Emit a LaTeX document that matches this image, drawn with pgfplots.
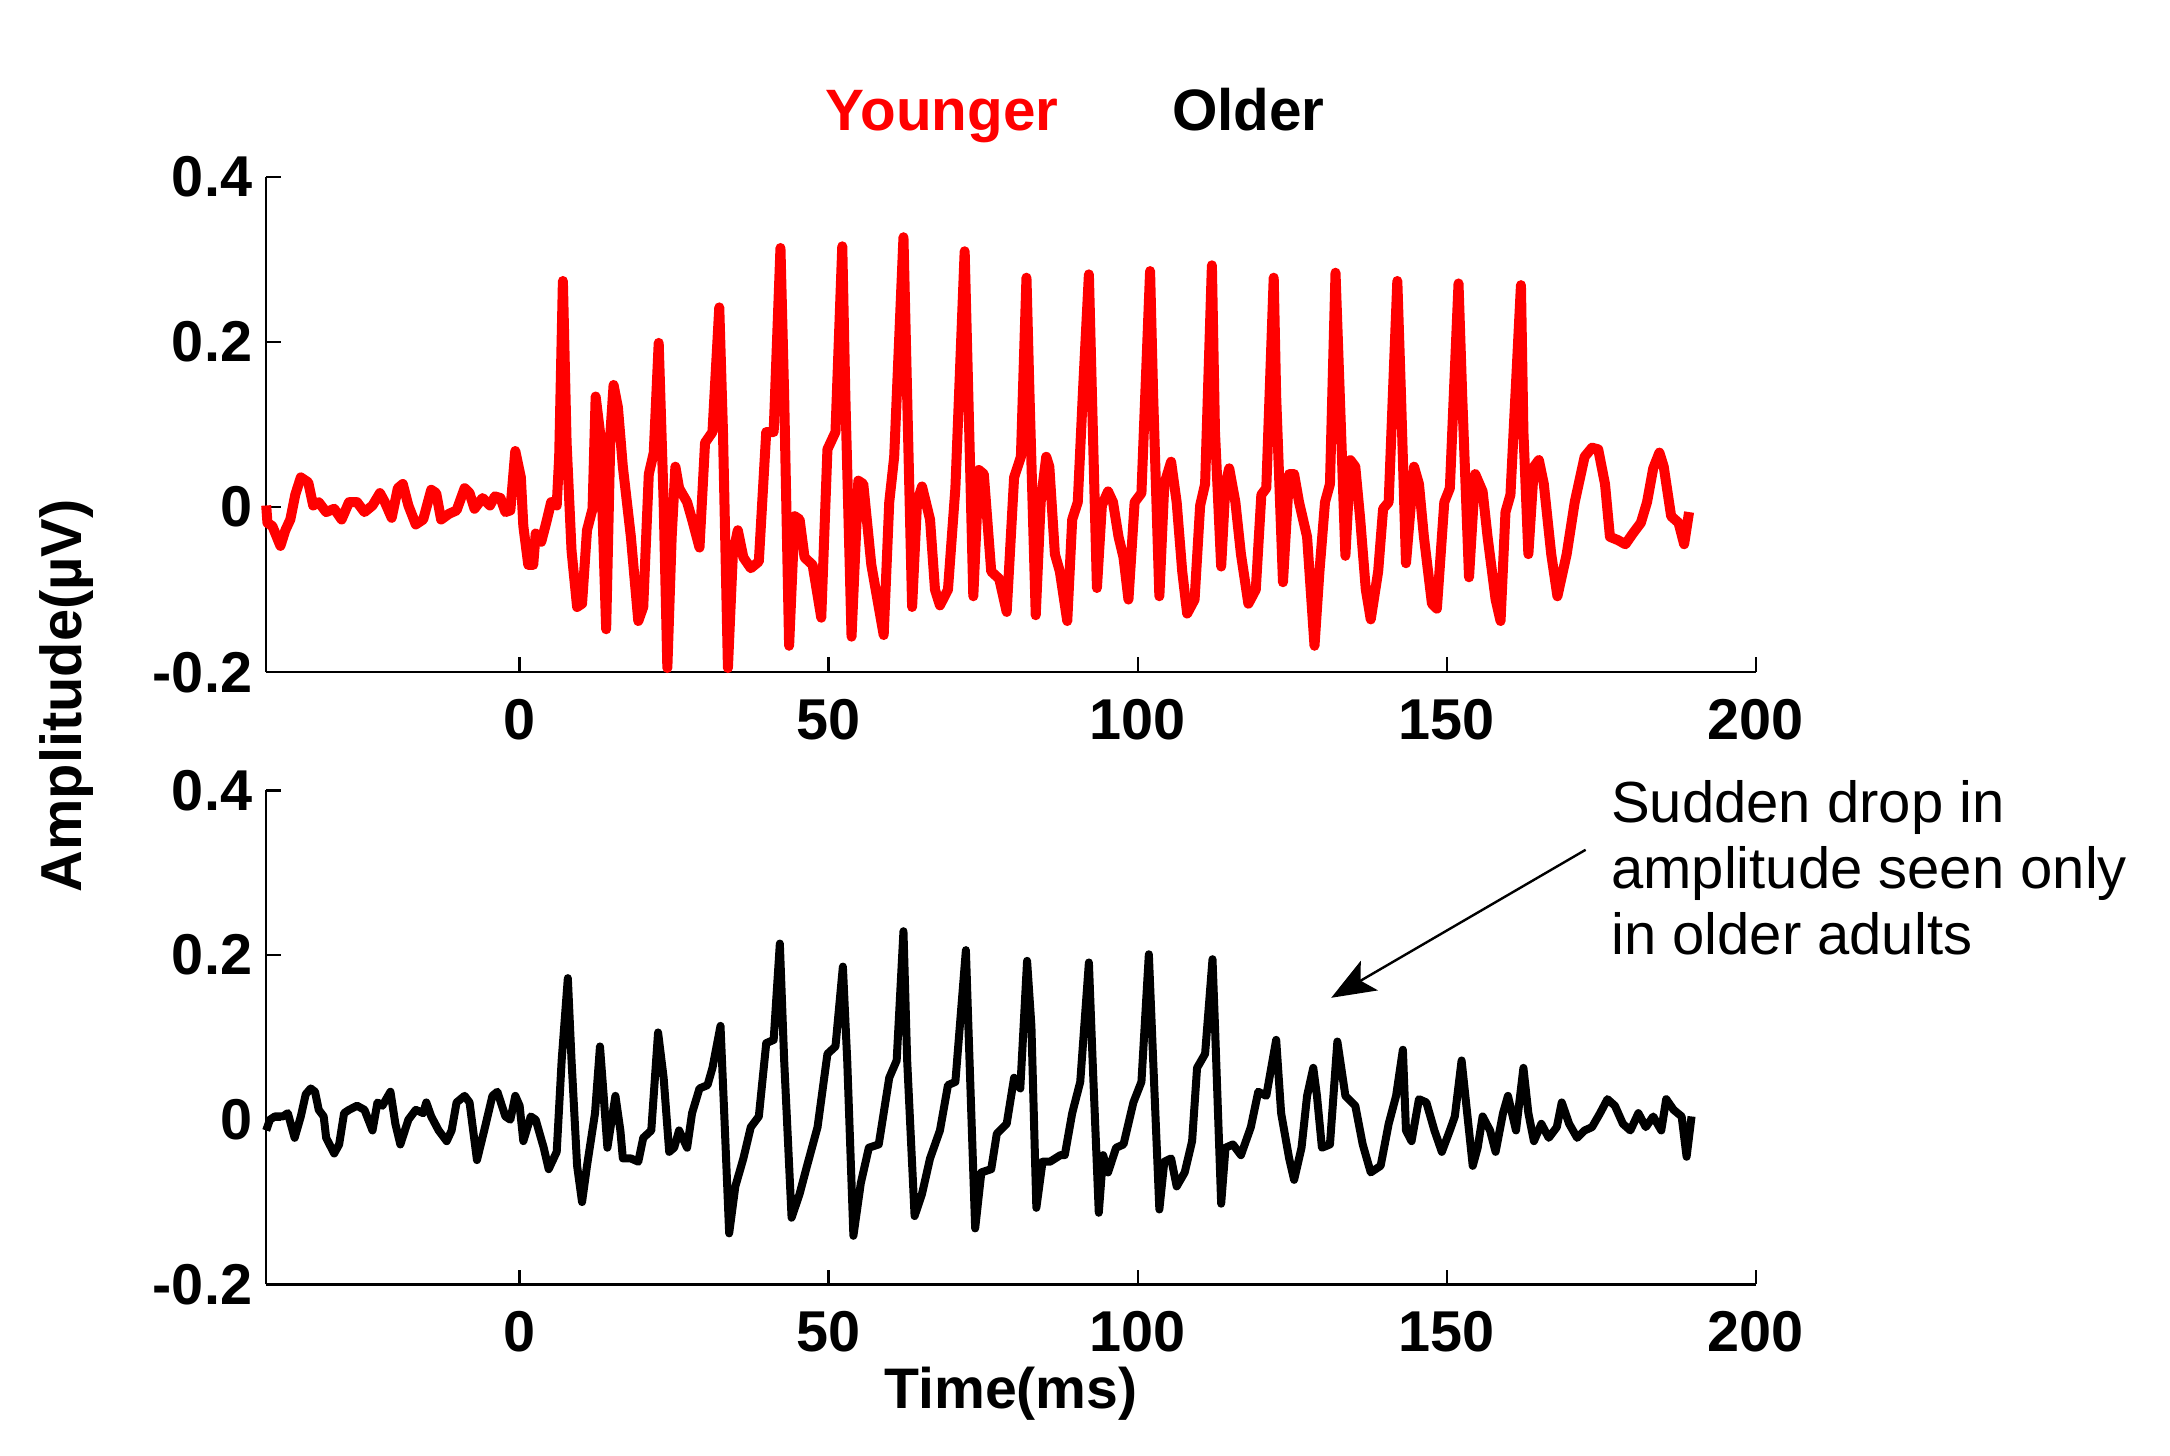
\documentclass[border=0pt]{standalone}
\usepackage{pgfplots}
\pgfplotsset{compat=1.18}
\usepackage{fontspec}
\setmainfont{Liberation Sans}
\usetikzlibrary{arrows.meta}
\definecolor{ured}{RGB}{255,0,0}
\begin{document}
\begin{tikzpicture}
\useasboundingbox (0,0) rectangle (542.5pt,363.75pt);
\pgfplotsset{eeg/.style={
  scale only axis, width=372.4pt,
  xmin=-41, xmax=200, ymin=-0.2, ymax=0.4,
  axis x line=bottom, axis y line=left,
  axis line style={-, line width=0.6pt, black},
  tick style={line width=0.6pt, black},
  major tick length=3.7pt, tick align=inside,
  xtick={0,50,100,150,200}, xticklabels={0,50,100,150,200},
  ytick={-0.2,0,0.2,0.4}, yticklabels={-0.2,0,0.2,0.4},
  tick label style={font=\fontsize{14.4}{16}\selectfont\bfseries},
  xticklabel style={yshift=-3.2pt},
  /pgf/number format/assume math mode=true,
  clip=false,
}}
\begin{axis}[eeg, at={(66.55pt,195.7pt)}, anchor=south west, height=123.8pt]
\addplot[ured, line width=2.5pt, line join=round] coordinates {
(-41,0.002)(-40.8,-0.019)(-40.0,-0.023)(-38.7,-0.047)(-37.9,-0.028)(-37.1,-0.015)(-36.3,0.015)(-35.4,0.036)(-34.2,0.030)(-33.4,0.002)
(-32.5,0.006)(-31.3,-0.006)(-30.0,-0.002)(-28.8,-0.015)(-27.6,0.006)(-26.3,0.006)(-25.1,-0.006)(-23.8,0.002)(-22.6,0.017)(-21.8,0.006)
(-20.7,-0.013)(-19.7,0.023)(-18.9,0.028)(-18.0,0.002)(-16.8,-0.021)(-15.6,-0.015)(-14.3,0.021)(-13.5,0.017)(-12.7,-0.015)(-11.4,-0.008)
(-10.2,-0.004)(-8.9,0.023)(-8.1,0.017)(-7.3,-0.002)(-6.0,0.011)(-4.8,0.002)(-4.0,0.013)(-3.1,0.011)(-2.3,-0.006)(-1.5,-0.004)
(-0.7,0.068)(0.2,0.036)(0.6,-0.023)(1.4,-0.070)(2.2,-0.070)(2.6,-0.032)(3.5,-0.042)(4.3,-0.019)(5.1,0.006)(6.0,0.002)
(6.4,0.061)(7.0,0.274)(7.6,0.078)(8.4,-0.053)(9.3,-0.121)(10.1,-0.117)(10.9,-0.028)(11.8,-0.002)(12.3,0.134)(13.0,0.091)
(14.0,-0.148)(14.7,0.091)(15.2,0.148)(15.9,0.121)(16.7,0.049)(18.0,-0.036)(19.2,-0.138)(20.0,-0.121)(20.9,0.040)(21.7,0.066)
(22.5,0.199)(23.3,0.006)(23.9,-0.195)(24.6,-0.036)(25.2,0.049)(25.8,0.023)(27.1,0.006)(27.9,-0.015)(29.1,-0.049)(30.0,0.078)
(31.2,0.091)(32.3,0.242)(32.9,0.091)(33.7,-0.195)(34.5,-0.057)(35.3,-0.028)(36.2,-0.061)(37.4,-0.074)(38.7,-0.066)(39.9,0.091)
(41.1,0.091)(42.2,0.314)(42.8,0.134)(43.6,-0.168)(44.5,-0.011)(45.3,-0.015)(46.1,-0.061)(47.4,-0.070)(48.8,-0.134)(49.8,0.070)
(51.1,0.091)(52.2,0.316)(52.7,0.134)(53.7,-0.157)(54.8,0.032)(55.6,0.028)(56.9,-0.070)(58.1,-0.121)(58.9,-0.155)(59.8,0.006)
(60.6,0.061)(62.1,0.327)(62.7,0.134)(63.5,-0.121)(64.3,0.006)(65.1,0.025)(66.4,-0.015)(67.2,-0.100)(68.0,-0.119)(69.3,-0.100)
(70.5,0.023)(72.0,0.310)(72.6,0.134)(73.4,-0.108)(74.3,0.045)(75.1,0.040)(76.3,-0.078)(77.6,-0.087)(78.8,-0.127)(80.0,0.036)
(81.1,0.061)(82.0,0.278)(82.5,0.134)(83.5,-0.131)(84.3,0.006)(85.2,0.061)(85.7,0.049)(86.6,-0.057)(87.4,-0.078)(88.6,-0.138)
(89.4,-0.015)(90.3,0.006)(91.1,0.134)(92.1,0.282)(92.6,0.134)(93.4,-0.098)(94.2,0.002)(95.2,0.019)(96.0,0.006)(96.9,-0.036)
(97.7,-0.061)(98.5,-0.112)(99.5,0.006)(100.6,0.017)(102.0,0.286)(102.5,0.134)(103.5,-0.108)(104.3,0.028)(105.4,0.055)(106.3,0.006)
(107.2,-0.078)(108.0,-0.129)(109.2,-0.112)(110.1,0.002)(110.9,0.028)(112.0,0.293)(112.5,0.091)(113.5,-0.072)(114.2,0.028)(114.8,0.047)
(115.8,0.006)(116.7,-0.057)(117.9,-0.117)(119.1,-0.100)(120.0,0.015)(120.8,0.023)(122.0,0.278)(122.4,0.134)(123.5,-0.091)(124.5,0.040)
(125.3,0.040)(126.1,0.006)(127.4,-0.036)(128.6,-0.168)(129.4,-0.078)(130.3,0.006)(131.1,0.028)(132.0,0.284)(132.7,0.134)(133.6,-0.059)
(134.4,0.057)(135.2,0.049)(136.0,-0.015)(136.9,-0.100)(137.7,-0.136)(138.9,-0.078)(139.7,-0.002)(140.6,0.006)(142.0,0.274)(142.6,0.134)
(143.4,-0.068)(144.7,0.049)(145.5,0.028)(146.3,-0.036)(147.6,-0.117)(148.4,-0.123)(149.6,0.006)(150.5,0.023)(151.9,0.271)(152.5,0.134)
(153.6,-0.085)(154.6,0.040)(155.8,0.019)(156.6,-0.036)(157.9,-0.112)(158.7,-0.138)(159.5,-0.006)(160.3,0.015)(162.0,0.269)(162.4,0.091)
(163.2,-0.057)(164.1,0.049)(164.9,0.057)(165.7,0.028)(166.9,-0.057)(167.9,-0.108)(169.4,-0.057)(170.7,0.006)(172.3,0.061)(173.5,0.072)
(174.5,0.070)(175.6,0.028)(176.4,-0.036)(177.7,-0.040)(178.9,-0.045)(180.1,-0.032)(181.4,-0.019)(182.4,0.006)(183.4,0.047)(184.4,0.066)
(185.1,0.049)(186.3,-0.011)(187.5,-0.019)(188.4,-0.045)(189.2,-0.006)
};
\end{axis}
\begin{axis}[eeg, at={(66.55pt,42.65pt)}, anchor=south west, height=123.5pt]
\addplot[black, line width=2.0pt, line join=round] coordinates {
(-41,-0.013)(-40.4,0.000)(-39.6,0.004)(-38.3,0.004)(-37.5,0.008)(-36.4,-0.022)(-35.4,0.004)(-34.6,0.031)(-33.8,0.038)(-33.1,0.034)
(-32.5,0.012)(-31.7,0.004)(-31.3,-0.022)(-30.0,-0.041)(-29.2,-0.030)(-28.4,0.008)(-27.6,0.012)(-26.3,0.017)(-25.1,0.012)(-23.8,-0.013)
(-23.0,0.021)(-22.2,0.017)(-20.9,0.034)(-20.1,-0.005)(-19.3,-0.030)(-18.0,0.000)(-16.8,0.012)(-15.6,0.008)(-15.1,0.021)(-14.3,0.004)
(-13.1,-0.013)(-11.8,-0.026)(-11.0,-0.013)(-10.2,0.021)(-8.9,0.029)(-8.1,0.021)(-6.9,-0.049)(-5.6,-0.009)(-4.4,0.029)(-3.6,0.034)
(-2.3,0.004)(-1.5,0.000)(-0.7,0.029)(0.0,0.017)(0.6,-0.026)(1.8,0.004)(2.6,0.000)(3.9,-0.034)(4.7,-0.060)(6.0,-0.039)
(6.8,0.072)(7.8,0.172)(8.4,0.072)(9.3,-0.056)(10.1,-0.100)(10.9,-0.056)(12.2,0.008)(13.0,0.089)(13.6,0.029)(14.2,-0.034)
(15.5,0.029)(16.3,-0.013)(16.7,-0.047)(18.0,-0.047)(19.2,-0.051)(20.0,-0.022)(21.3,-0.013)(22.4,0.106)(23.3,0.051)(24.2,-0.039)
(25.0,-0.034)(25.8,-0.013)(27.1,-0.034)(27.9,0.008)(29.1,0.038)(30.4,0.042)(31.2,0.063)(32.5,0.114)(33.1,0.008)(33.9,-0.138)
(34.9,-0.081)(36.2,-0.047)(37.4,-0.009)(38.7,0.004)(39.9,0.093)(41.1,0.097)(42.1,0.214)(42.8,0.072)(44.0,-0.119)(45.3,-0.090)
(46.5,-0.056)(48.2,-0.009)(49.8,0.080)(51.1,0.089)(52.3,0.186)(53.0,0.072)(54.0,-0.141)(55.2,-0.077)(56.5,-0.034)(58.1,-0.030)
(59.8,0.051)(61.0,0.072)(62.1,0.229)(62.7,0.072)(63.9,-0.117)(65.1,-0.090)(66.4,-0.047)(68.0,-0.013)(69.3,0.042)(70.5,0.046)
(72.2,0.206)(72.6,0.114)(73.7,-0.132)(74.7,-0.064)(76.3,-0.060)(77.2,-0.017)(78.8,-0.005)(80.0,0.051)(81.0,0.038)(82.1,0.193)
(82.8,0.114)(83.6,-0.107)(84.6,-0.051)(85.8,-0.051)(87.5,-0.043)(88.2,-0.043)(89.4,0.008)(90.7,0.046)(92.1,0.191)(92.7,0.072)
(93.7,-0.113)(94.4,-0.043)(95.2,-0.064)(96.5,-0.034)(97.7,-0.030)(99.3,0.021)(100.6,0.046)(101.8,0.201)(102.5,0.072)(103.5,-0.109)
(104.3,-0.051)(105.4,-0.047)(106.3,-0.081)(107.6,-0.064)(108.8,-0.026)(109.6,0.063)(110.9,0.080)(112.1,0.195)(112.5,0.114)(113.5,-0.102)
(114.2,-0.034)(115.4,-0.030)(116.7,-0.043)(118.3,-0.009)(119.5,0.034)(120.8,0.029)(122.4,0.097)(123.2,0.008)(124.5,-0.047)(125.3,-0.073)
(126.5,-0.034)(127.4,0.029)(128.4,0.063)(129.0,0.029)(129.8,-0.034)(131.1,-0.030)(132.3,0.095)(133.6,0.029)(135.2,0.017)(136.4,-0.030)
(137.7,-0.064)(139.3,-0.056)(140.6,-0.005)(141.8,0.029)(142.9,0.085)(143.4,-0.013)(144.3,-0.026)(145.5,0.025)(146.7,0.021)(148.0,-0.013)
(149.2,-0.039)(150.5,-0.013)(151.3,0.004)(152.4,0.072)(153.3,0.008)(154.2,-0.056)(155.0,-0.034)(155.8,0.004)(157.0,-0.013)(157.9,-0.039)
(159.1,0.008)(159.9,0.029)(161.2,-0.013)(162.4,0.063)(163.2,0.008)(164.1,-0.026)(165.3,-0.005)(166.5,-0.022)(167.8,-0.009)(168.6,0.021)
(169.8,-0.005)(171.1,-0.022)(172.3,-0.013)(173.5,-0.009)(174.8,0.008)(176.0,0.025)(177.2,0.017)(178.5,-0.005)(179.7,-0.013)(181.0,0.008)
(182.2,-0.009)(183.4,0.004)(184.7,-0.013)(185.5,0.025)(186.7,0.012)(188.0,0.004)(188.8,-0.045)(189.6,0.004)
};
\end{axis}
% legend texts
\node[anchor=base, inner sep=0pt, text=ured, font=\fontsize{14.6}{17}\selectfont\bfseries] at (235.5pt,331pt) {Younger};
\node[anchor=base, inner sep=0pt, font=\fontsize{14.6}{17}\selectfont\bfseries] at (312.1pt,331pt) {Older};
% axis labels
\node[anchor=base, inner sep=0pt, rotate=90, font=\fontsize{14.45}{17}\selectfont\bfseries] at (20.25pt,189.8pt) {Amplitude(µV)};
\node[anchor=base, inner sep=0pt, font=\fontsize{14.3}{17}\selectfont\bfseries] at (252.75pt,11.7pt) {Time(ms)};
% annotation
\node[anchor=base west, inner sep=0pt, font=\fontsize{14.5}{17}\selectfont] at (402.6pt,158.2pt) {Sudden drop in};
\node[anchor=base west, inner sep=0pt, font=\fontsize{14.5}{17}\selectfont] at (402.6pt,141.65pt) {amplitude seen only};
\node[anchor=base west, inner sep=0pt, font=\fontsize{14.5}{17}\selectfont] at (402.6pt,125.1pt) {in older adults};
\draw[line width=0.6pt, -{Stealth[length=11pt,width=8.5pt,inset=2.5pt]}] (396.4pt,151.3pt) -- (332.8pt,114.3pt);
\end{tikzpicture}
\end{document}
